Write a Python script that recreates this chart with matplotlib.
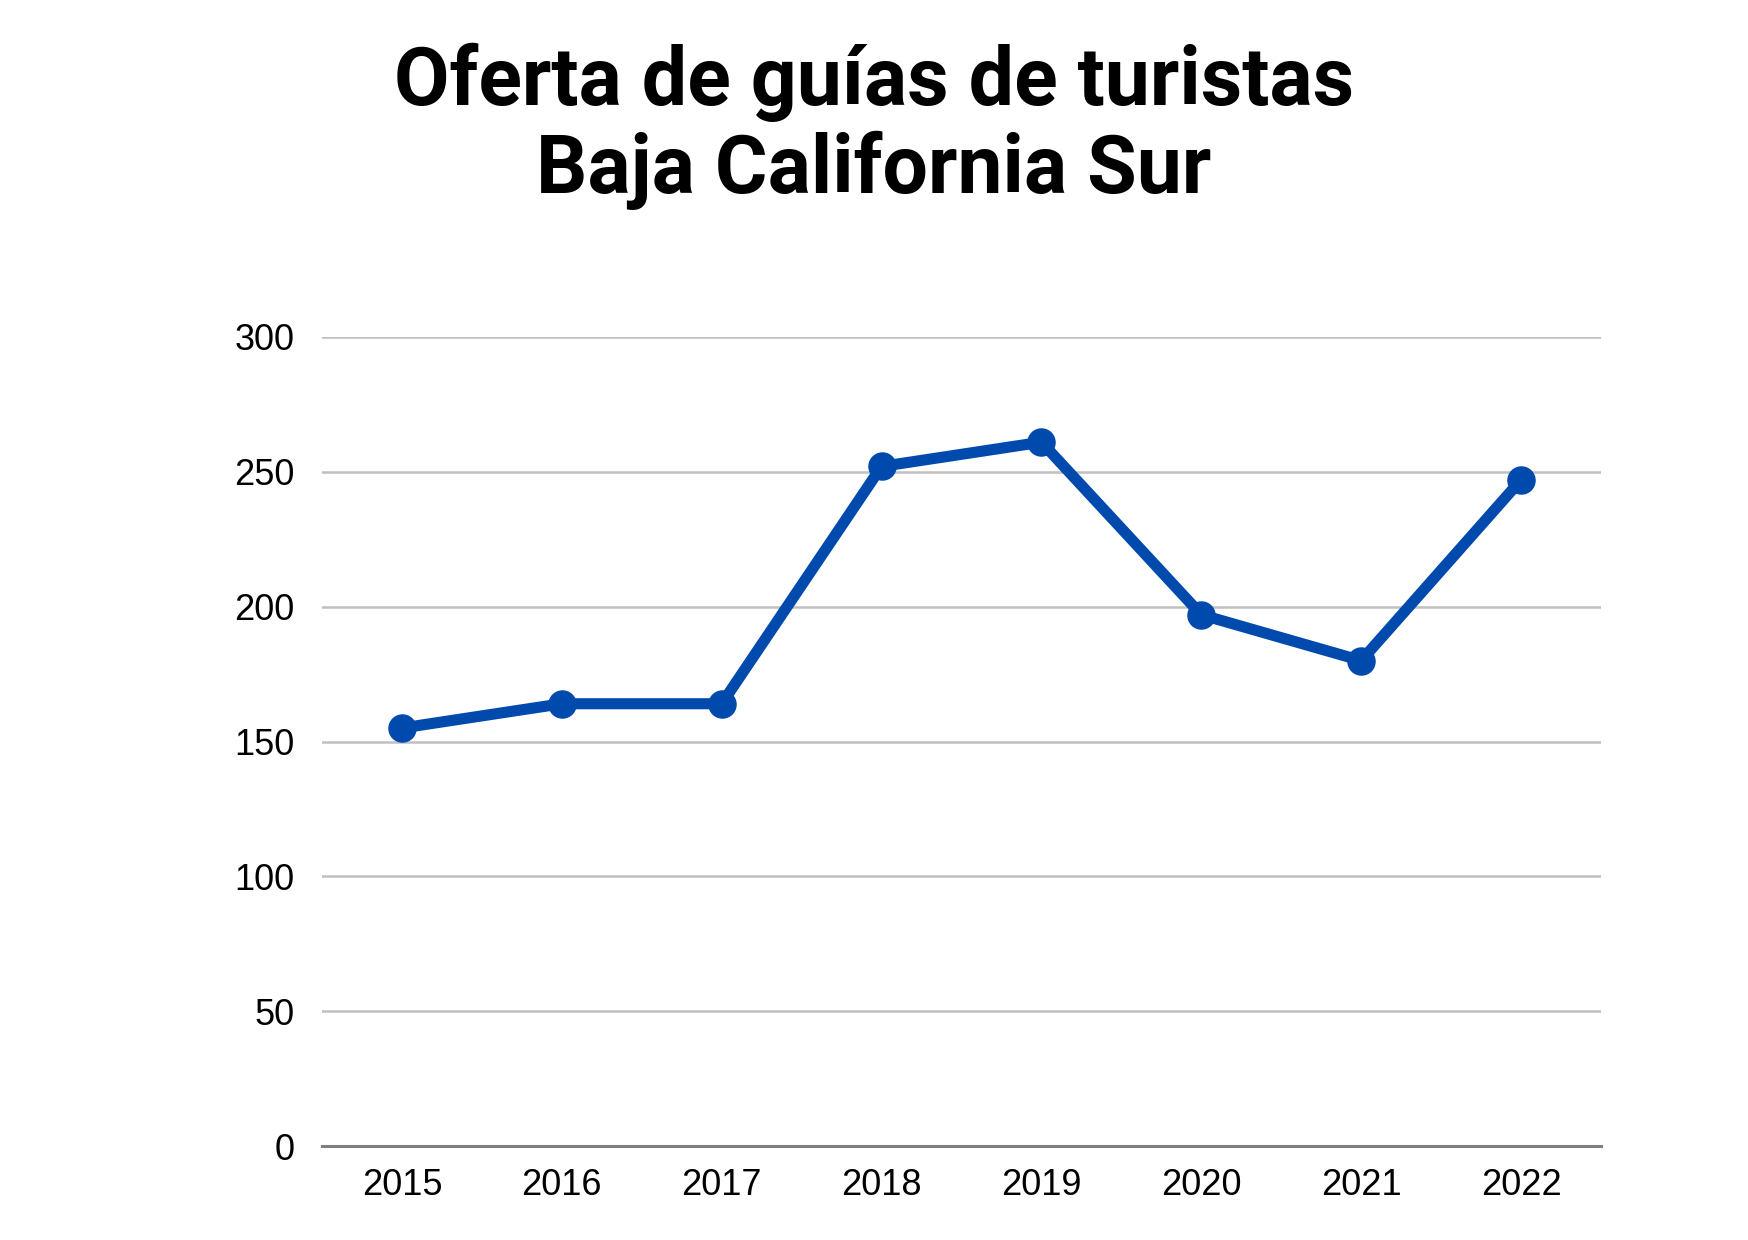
import matplotlib
matplotlib.use("Agg")
import matplotlib.pyplot as plt

years = ["2015", "2016", "2017", "2018", "2019", "2020", "2021", "2022"]
guias = [155, 164, 164, 252, 261, 197, 180, 247]
yticks = [0, 50, 100, 150, 200, 250, 300]

W, H = 1748, 1240
fig = plt.figure(figsize=(W / 100, H / 100), dpi=100)
ax = fig.add_axes([322 / W, (H - 1146) / H, (1601 - 322) / W, (1146 - 337) / H])

x = list(range(len(years)))
ax.plot(x, guias, color="#004AAD", linewidth=8, marker="o", markersize=19.5,
        solid_joinstyle="round", solid_capstyle="round", zorder=3, clip_on=False)

ax.set_xlim(-0.5, len(years) - 0.5)
ax.set_ylim(0, 300)
ax.set_yticks(yticks)
ax.set_yticklabels([str(v) for v in yticks])
ax.set_xticks(x)
ax.set_xticklabels(years)

for v in yticks[1:]:
    ax.axhline(v, color="#c0c0c0", linewidth=1.8, zorder=1)

for s in ["top", "right", "left"]:
    ax.spines[s].set_visible(False)
ax.spines["bottom"].set_color("#7f7f7f")
ax.spines["bottom"].set_linewidth(2.2)
ax.spines["bottom"].set_zorder(2)

ax.tick_params(axis="y", length=0, pad=20, labelsize=26)
ax.tick_params(axis="x", length=0, pad=16, labelsize=26)
for lab in ax.get_xticklabels() + ax.get_yticklabels():
    lab.set_fontfamily(["Liberation Sans", "DejaVu Sans"])
    lab.set_color("#000000")

title_font = ["Roboto", "DejaVu Sans"]
fig.text(0.5, 1 - 105 / H, "Oferta de guías de turistas", ha="center", va="baseline",
         fontsize=58, fontweight="bold", family=title_font, color="#000000")
fig.text(0.5, 1 - 193 / H, "Baja California Sur", ha="center", va="baseline",
         fontsize=58, fontweight="bold", family=title_font, color="#000000")

fig.savefig("out.png", dpi=100, facecolor="white")
